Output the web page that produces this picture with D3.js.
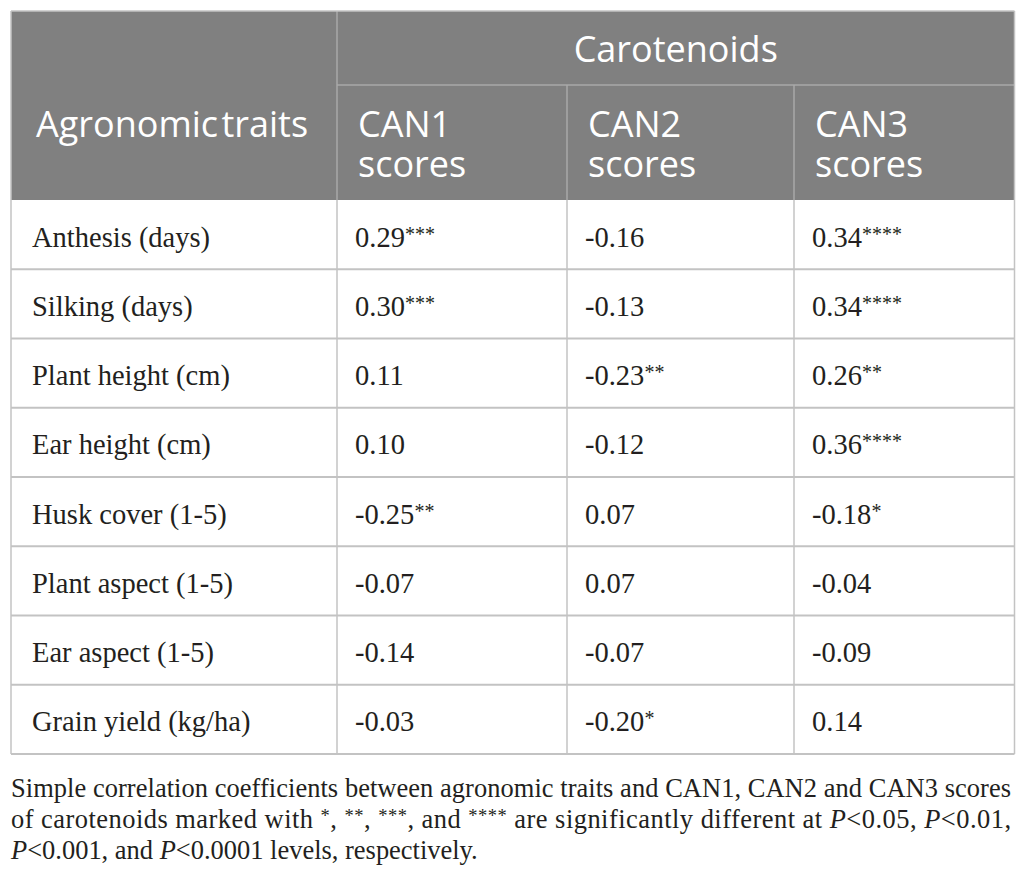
<!DOCTYPE html>
<html>
<head>
<meta charset="utf-8">
<script src="https://cdn.jsdelivr.net/npm/d3@7"></script>
<style>
  html, body { margin: 0; padding: 0; background: #ffffff; }
  svg { display: block; }
</style>
</head>
<body>
<script>
// ---------- data ----------
const groupLabel = "Carotenoids";
const stubHeader = "Agronomic traits";
const columns = [["CAN1", "scores"], ["CAN2", "scores"], ["CAN3", "scores"]];
const traits = ["Anthesis (days)", "Silking (days)", "Plant height (cm)", "Ear height (cm)",
                "Husk cover (1-5)", "Plant aspect (1-5)", "Ear aspect (1-5)", "Grain yield (kg/ha)"];
const can1Values = [0.29, 0.30, 0.11, 0.10, -0.25, -0.07, -0.14, -0.03];
const can1Stars  = ["***", "***", "", "", "**", "", "", ""];
const can2Values = [-0.16, -0.13, -0.23, -0.12, 0.07, 0.07, -0.07, -0.20];
const can2Stars  = ["", "", "**", "", "", "", "", "*"];
const can3Values = [0.34, 0.34, 0.26, 0.36, -0.18, -0.04, -0.09, 0.14];
const can3Stars  = ["****", "****", "**", "****", "*", "", "", ""];
// footnote parts: [text, style]  style: "" normal, "i" italic, "s" superscript
const footnoteLines = [
  [["Simple correlation coefficients between agronomic traits and CAN1, CAN2 and CAN3 scores", ""]],
  [["of carotenoids marked with ", ""], ["*", "s"], [", ", ""], ["**", "s"], [", ", ""], ["***", "s"],
   [", and ", ""], ["****", "s"], [" are significantly different at ", ""], ["P", "i"], ["<0.05, ", ""],
   ["P", "i"], ["<0.01,", ""]],
  [["P", "i"], ["<0.001, and ", ""], ["P", "i"], ["<0.0001 levels, respectively.", ""]]
];

// ---------- layout ----------
const W = 1025, H = 878;
const left = 11, right = 1014.5;
const colEdges = [left, 337, 567, 794, right];
const headTop = 11, headMid = 85, headBottom = 200, bodyBottom = 754;

const svg = d3.select("body").append("svg").attr("width", W).attr("height", H);

const yBody = d3.scaleBand().domain(d3.range(traits.length)).range([headBottom, bodyBottom]).padding(0);
const fmt = d3.format(".2f");

// header background
svg.append("rect").attr("x", left).attr("y", headTop)
  .attr("width", right - left).attr("height", headBottom - headTop).attr("fill", "#808080");

// header lines
const hdrLine = "#a9a9a9";
svg.append("line").attr("x1", colEdges[1]).attr("x2", right).attr("y1", headMid).attr("y2", headMid)
  .attr("stroke", hdrLine).attr("stroke-width", 1.5);
svg.append("line").attr("x1", colEdges[1]).attr("x2", colEdges[1]).attr("y1", headTop).attr("y2", headBottom)
  .attr("stroke", hdrLine).attr("stroke-width", 1.5);
[2, 3].forEach(i => {
  svg.append("line").attr("x1", colEdges[i]).attr("x2", colEdges[i]).attr("y1", headMid).attr("y2", headBottom)
    .attr("stroke", hdrLine).attr("stroke-width", 1.5);
});

// header texts
const hfont = "'Open Sans', 'Noto Sans', sans-serif";
const fsHead = 36;
const head = svg.append("g").attr("font-family", hfont).attr("font-size", fsHead).attr("fill", "#ffffff");
head.append("text").attr("x", (colEdges[1] + right) / 2).attr("y", 62)
  .attr("text-anchor", "middle").text(groupLabel);
head.append("text").attr("x", left + 25).attr("y", 137)
  .attr("word-spacing", -6).text(stubHeader);
columns.forEach((c, i) => {
  const x0 = colEdges[i + 1] + 21;
  head.append("text").attr("x", x0).attr("y", 137).text(c[0]);
  head.append("text").attr("x", x0).attr("y", 177).text(c[1]);
});

// body grid
const bodyLine = "#c3c3c3";
yBody.domain().forEach(i => {
  if (i > 0) svg.append("line").attr("x1", left).attr("x2", right)
    .attr("y1", yBody(i)).attr("y2", yBody(i)).attr("stroke", bodyLine).attr("stroke-width", 1.8);
});
svg.append("line").attr("x1", left).attr("x2", right).attr("y1", bodyBottom).attr("y2", bodyBottom)
  .attr("stroke", bodyLine).attr("stroke-width", 1.8);
colEdges.forEach((x, i) => {
  svg.append("line").attr("x1", x).attr("x2", x).attr("y1", i === 0 || i === 4 ? headTop : headBottom)
    .attr("y2", bodyBottom).attr("stroke", bodyLine).attr("stroke-width", 1.5);
});
svg.append("line").attr("x1", left).attr("x2", right).attr("y1", headTop).attr("y2", headTop)
  .attr("stroke", bodyLine).attr("stroke-width", 1.5);

// body texts
const bfont = "'Liberation Serif', 'Times New Roman', serif";
const ink = "#231f20";
const fsBody = 28.5;
const rowText = svg.append("g").attr("font-family", bfont).attr("font-size", fsBody).attr("fill", ink);
const baseY = i => yBody(i) + yBody.bandwidth() / 2 + 12;
traits.forEach((tr, i) => {
  rowText.append("text").attr("x", left + 21).attr("y", baseY(i)).text(tr);
});
const valueCols = [[can1Values, can1Stars], [can2Values, can2Stars], [can3Values, can3Stars]];
valueCols.forEach(([vals, stars], c) => {
  vals.forEach((v, i) => {
    const t = rowText.append("text").attr("x", colEdges[c + 1] + 18).attr("y", baseY(i));
    t.append("tspan").text(fmt(v).replace("\u2212", "-"));
    if (stars[i]) t.append("tspan").attr("font-size", 20).attr("dy", -6).text(stars[i]);
  });
});

// footnote
const foot = svg.append("g").attr("font-family", bfont).attr("font-size", 24).attr("fill", ink);
const footY = [797, 828, 859];
const footTexts = footnoteLines.map((parts, li) => {
  const t = foot.append("text").attr("x", left).attr("y", footY[li]);
  let raised = false;
  parts.forEach(([s, st]) => {
    const sp = t.append("tspan").text(s);
    if (st === "i") sp.attr("font-style", "italic");
    if (st === "s") { sp.attr("font-size", "0.7em").attr("dy", raised ? 0 : -6); raised = true; }
    else if (raised) { sp.attr("dy", 6); raised = false; }
  });
  return t;
});
// size the footnote so its first line fills the table width, then justify first two lines
const natural = footTexts[0].node().getComputedTextLength();
const fsFoot = Math.min(27, 24 * 996 / natural);
foot.attr("font-size", fsFoot);
footTexts.forEach((t, li) => {
  if (li < 2) t.attr("textLength", 1000).attr("lengthAdjust", "spacing");
});
</script>
</body>
</html>
